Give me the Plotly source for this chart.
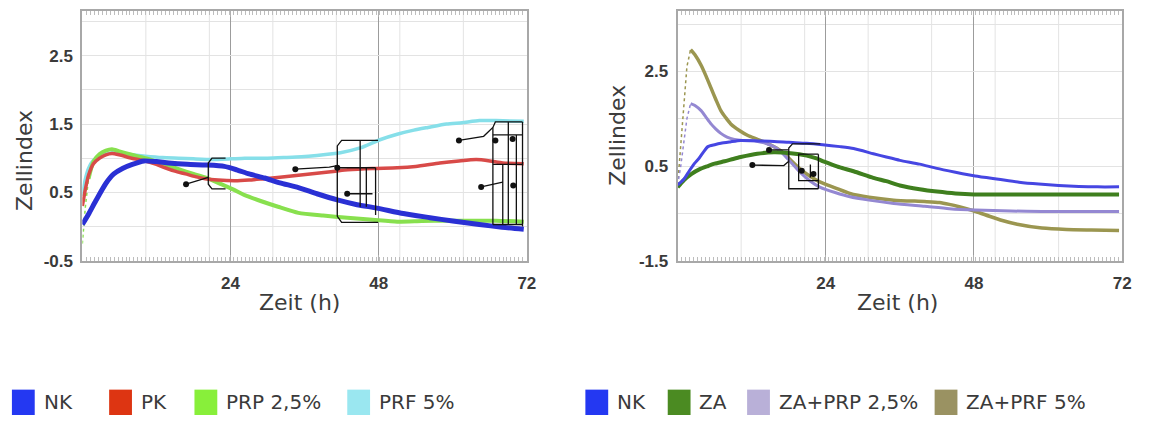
import plotly.graph_objects as go

W, H = 1149, 426

# ---------------- left panel: NK / PK / PRP 2,5% / PRF 5% ----------------
t_nk_l = [0, 1, 2.2, 3.8, 5.1, 6.5, 8.1, 10, 12, 14, 17, 20, 23, 25, 27, 29.5, 32, 35,
          38, 41.3, 44.5, 47.7, 52, 56.3, 60, 64.3, 68, 71.5]
v_nk_l = [0.03, 0.18, 0.38, 0.63, 0.77, 0.85, 0.91, 0.96, 0.95, 0.93, 0.91, 0.90, 0.88,
          0.83, 0.77, 0.71, 0.64, 0.57, 0.48, 0.39, 0.32, 0.27, 0.19, 0.13, 0.08, 0.03,
          -0.01, -0.04]

t_pk = [0, 0.5, 1, 1.8, 2.8, 3.8, 4.8, 6, 8, 10.2, 12, 13.4, 15, 16.7, 18.3, 19.9, 22,
        24.7, 27, 29.5, 32, 35, 38, 41, 43, 47, 51, 54, 57.9, 61, 63.8, 66, 68.1, 71.5]
v_pk = [0.3, 0.55, 0.75, 0.92, 1.0, 1.05, 1.07, 1.05, 1.0, 0.96, 0.91, 0.86, 0.81, 0.77,
        0.73, 0.70, 0.68, 0.67, 0.68, 0.70, 0.72, 0.75, 0.78, 0.81, 0.83, 0.85, 0.86,
        0.88, 0.93, 0.96, 0.98, 0.96, 0.93, 0.92]

t_prp = [0, 0.5, 1, 1.8, 2.8, 3.8, 4.8, 6, 8, 10.2, 12, 14, 15.6, 18, 19.9, 22.5, 24.5,
         26.3, 29, 31.7, 35, 39, 42.9, 47, 51, 55, 59, 63, 67, 71.5]
v_prp = [-0.25, 0.3, 0.7, 0.95, 1.06, 1.11, 1.13, 1.1, 1.05, 1.0, 0.95, 0.89, 0.84, 0.77,
         0.72, 0.62, 0.54, 0.46, 0.37, 0.29, 0.2, 0.16, 0.13, 0.1, 0.07, 0.08, 0.086,
         0.086, 0.086, 0.07]

t_prf = [0, 0.5, 1, 1.8, 2.8, 3.8, 4.8, 6, 8, 10.2, 13, 15.6, 18, 21, 24, 26.3, 30, 33,
         35.5, 38, 41.8, 45, 48.2, 51, 53.7, 56, 59, 61.5, 64.3, 67, 71.5]
v_prf = [0.45, 0.7, 0.85, 0.97, 1.03, 1.06, 1.08, 1.07, 1.05, 1.03, 1.01, 1.0, 0.99, 0.98,
         0.99, 1.0, 1.0, 1.01, 1.02, 1.04, 1.08, 1.15, 1.27, 1.35, 1.41, 1.45, 1.5, 1.52,
         1.55, 1.55, 1.54]

# significance brackets (time h, Zellindex)
brackets_l = [
    [(16.8, 0.62), (19.5, 0.70), (20.4, 0.72)],
    [(23.2, 1.0), (21.0, 1.0), (20.4, 0.93), (20.4, 0.62), (21.0, 0.55), (23.2, 0.55)],
    [(34.5, 0.84), (40.0, 0.87), (41.3, 0.89)],
    [(47.9, 1.26), (42.0, 1.26), (41.3, 1.18), (41.3, 0.15), (42.0, 0.06), (47.9, 0.06)],
    [(41.3, 0.86), (47.5, 0.86)],
    [(45.0, 1.26), (45.0, 0.29)],
    [(46.0, 0.86), (46.0, 0.29)],
    [(47.5, 0.86), (47.5, 0.17)],
    [(42.9, 0.48), (47.0, 0.48)],
    [(61.0, 1.26), (65.0, 1.32), (66.5, 1.45), (66.9, 1.53), (71.3, 1.53)],
    [(66.5, 1.34), (71.3, 1.34)],
    [(66.5, 1.45), (66.5, 0.03)],
    [(69.0, 1.53), (69.0, 0.03)],
    [(70.3, 1.34), (70.3, 0.03)],
    [(71.3, 1.53), (71.3, 0.0)],
    [(66.5, 0.03), (71.3, 0.03)],
    [(64.6, 0.58), (68.1, 0.65)],
    [(68.1, 0.91), (68.1, 0.03)],
    [(66.5, 0.91), (71.3, 0.91)],
]
dots_l = [(16.8, 0.62), (34.5, 0.84), (41.3, 0.86), (42.9, 0.48), (61.0, 1.26),
          (66.9, 1.26), (69.7, 1.28), (64.6, 0.58), (69.8, 0.60)]

# ---------------- right panel: NK / ZA / ZA+PRP 2,5% / ZA+PRF 5% ----------------
t_nk_r = [0, 1, 1.9, 2.7, 3.5, 4.2, 4.9, 6, 7, 8.5, 10.2, 13, 15.6, 18, 20.9, 23.5, 26.3,
          28.5, 31.7, 33.8, 36, 39.2, 42, 45, 48.2, 52, 55.3, 58.5, 61.7, 65, 68, 71.5]
v_nk_r = [0.1, 0.22, 0.4, 0.55, 0.67, 0.8, 0.91, 0.95, 0.98, 1.01, 1.04, 1.03, 1.02, 1.0,
          0.98, 0.95, 0.91, 0.87, 0.76, 0.69, 0.62, 0.54, 0.45, 0.37, 0.29, 0.22, 0.16,
          0.12, 0.09, 0.07, 0.06, 0.06]

t_za = [0, 1, 2.2, 3.5, 4.9, 6, 7.6, 9, 10.2, 12.9, 15.6, 18.3, 20.9, 22.5, 23.6, 25, 26.3,
        28.5, 31.7, 33.8, 36, 39.2, 42, 45, 48, 51, 56, 62, 67, 71.5]
v_za = [0.05, 0.2, 0.33, 0.43, 0.5, 0.55, 0.6, 0.65, 0.69, 0.76, 0.79, 0.77, 0.72, 0.66,
        0.6, 0.53, 0.47, 0.39, 0.25, 0.18, 0.09, 0.01, -0.04, -0.08, -0.1, -0.1, -0.1,
        -0.1, -0.1, -0.1]

t_zaprp = [0, 0.5, 1, 1.5, 2.1, 2.8, 3.8, 4.6, 5.4, 6.2, 7, 8, 9.2, 10.5, 11.8, 13, 14.5,
           16, 17.2, 18.5, 19.9, 21.5, 23.1, 25.5, 27.9, 31, 35, 40, 44, 48.2, 54, 59,
           65, 71.5]
v_zaprp = [0.1, 0.5, 1.0, 1.5, 1.82, 1.78, 1.67, 1.53, 1.39, 1.28, 1.19, 1.11, 1.06, 1.04,
           1.04, 1.02, 0.97, 0.88, 0.74, 0.56, 0.36, 0.18, 0.05, -0.06, -0.15, -0.22,
           -0.29, -0.35, -0.4, -0.43, -0.45, -0.46, -0.46, -0.46]

t_zaprf = [0, 0.5, 1, 1.5, 2.1, 2.8, 3.8, 4.6, 5.4, 6.2, 7, 7.8, 8.6, 10, 11.3, 13, 14.5,
           16, 17.2, 18.5, 19.9, 21.5, 23.1, 25.5, 27.9, 31, 35, 40, 42.4, 44, 45.6,
           48.3, 50.5, 52.6, 55, 59, 63, 67, 71.5]
v_zaprf = [0.1, 0.9, 1.8, 2.6, 2.96, 2.85, 2.63, 2.4, 2.15, 1.9, 1.67, 1.52, 1.39, 1.25,
           1.15, 1.06, 0.98, 0.88, 0.77, 0.6, 0.43, 0.28, 0.16, 0.04, -0.08, -0.16,
           -0.22, -0.25, -0.27, -0.31, -0.36, -0.46, -0.56, -0.65, -0.73, -0.81, -0.84,
           -0.85, -0.86]

brackets_r = [
    [(12.1, 0.52), (17.2, 0.51), (18.0, 0.60)],
    [(23.1, 0.97), (18.6, 0.97), (18.0, 0.88), (18.0, 0.02), (22.8, 0.02)],
    [(14.8, 0.84), (18.0, 0.84)],
    [(22.8, 0.75), (19.6, 0.75), (19.6, 0.19), (22.8, 0.19)],
    [(22.8, 0.75), (22.8, 0.02)],
    [(21.5, 0.53), (21.5, 0.26)],
]
dots_r = [(12.1, 0.52), (14.8, 0.84), (20.1, 0.40), (22.0, 0.33)]

legend_l = [("NK", "#2438f2"), ("PK", "#dd3512"), ("PRP 2,5%", "#88ef3a"), ("PRF 5%", "#9ae7f0")]
legend_r = [("NK", "#2438f2"), ("ZA", "#4b8b22"), ("ZA+PRP 2,5%", "#b9b0d8"), ("ZA+PRF 5%", "#9a9262")]

# ---------------- figure ----------------
fig = go.Figure()


def add_curve(t, v, color, width, xa, ya, n_dot=0):
    if n_dot:
        fig.add_trace(go.Scatter(x=t[:n_dot + 1], y=v[:n_dot + 1], mode="lines",
                                 line=dict(color=color, width=1.5, dash="dot"),
                                 xaxis=xa, yaxis=ya, showlegend=False, hoverinfo="skip"))
    fig.add_trace(go.Scatter(x=t[n_dot:], y=v[n_dot:], mode="lines",
                             line=dict(color=color, width=width, shape="spline", smoothing=0.6),
                             xaxis=xa, yaxis=ya, showlegend=False))


def add_brackets(paths, dots, xa, ya):
    for p in paths:
        fig.add_trace(go.Scatter(x=[q[0] for q in p], y=[q[1] for q in p], mode="lines",
                                 line=dict(color="#111111", width=1.3),
                                 xaxis=xa, yaxis=ya, showlegend=False, hoverinfo="skip"))
    fig.add_trace(go.Scatter(x=[d[0] for d in dots], y=[d[1] for d in dots], mode="markers",
                             marker=dict(color="#111111", size=6),
                             xaxis=xa, yaxis=ya, showlegend=False, hoverinfo="skip"))


# left panel curves (drawn back to front)
add_curve(t_prf, v_prf, "#86dfe9", 3.5, "x", "y")
add_curve(t_prp, v_prp, "#88e04e", 4, "x", "y", n_dot=2)
add_curve(t_pk, v_pk, "#d84a48", 3.5, "x", "y")
add_curve(t_nk_l, v_nk_l, "#2a30d4", 5, "x", "y")
add_brackets(brackets_l, dots_l, "x", "y")

# right panel curves
add_curve(t_zaprf, v_zaprf, "#9b9650", 3.5, "x2", "y2", n_dot=4)
add_curve(t_zaprp, v_zaprp, "#9488d2", 3, "x2", "y2", n_dot=4)
add_curve(t_za, v_za, "#3f7f1e", 4, "x2", "y2")
add_curve(t_nk_r, v_nk_r, "#4646e2", 3, "x2", "y2")
add_brackets(brackets_r, dots_r, "x2", "y2")

y_dom = [(H - 267) / H, (H - 11) / H]
xl_dom = [83 / W, 531 / W]
xr_dom = [683 / W, 1131 / W]

tick_font = dict(family="Liberation Sans, Arial", size=17, color="#3a3a3a")
frame = dict(showline=True, linecolor="#a8a8a8", linewidth=2, zeroline=False)


def x_axis(dom, anchor):
    # labelled hours with darker grid, plus a fine row of tick marks along both frame edges
    return dict(domain=dom, anchor=anchor, range=[0, 72], tickvals=[24, 48, 72],
                ticktext=["<b>24</b>", "<b>48</b>", "<b>72</b>"], ticks="inside",
                ticklen=6, tickcolor="#b0b0b0", mirror="allticks",
                showgrid=True, gridcolor="#9c9c9c", gridwidth=1,
                minor=dict(tick0=0, dtick=72 / 112, ticks="inside", ticklen=4,
                           tickcolor="#bdbdbd", showgrid=False),
                tickfont=tick_font, ticklabelstandoff=6, **frame)


def y_axis(dom, anchor, rng, tick0, dtick, minor_dtick, labels):
    return dict(domain=dom, anchor=anchor, range=rng, mirror=True,
                tickvals=labels, ticktext=[f"<b>{v:g}</b>" for v in labels], ticks="",
                showgrid=True, gridcolor="#e3e3e3",
                minor=dict(tick0=tick0, dtick=minor_dtick, showgrid=True, gridcolor="#e3e3e3",
                           ticks=""),
                tickfont=tick_font, ticklabelstandoff=4, **frame)


fig.update_layout(
    width=W, height=H, margin=dict(l=0, r=0, t=0, b=0),
    paper_bgcolor="white", plot_bgcolor="white", showlegend=False,
    xaxis=x_axis(xl_dom, "y"),
    xaxis2=x_axis(xr_dom, "y2"),
    yaxis=y_axis(y_dom, "x", [-0.5, 3.157], -0.5, 1, 0.5, [-0.5, 0.5, 1.5, 2.5]),
    yaxis2=y_axis(y_dom, "x2", [-1.5, 3.78], -1.5, 2, 1, [-1.5, 0.5, 2.5]),
)

shapes = []
# light vertical grid every 72/7 h
for xref, yref in [("x", "y domain"), ("x2", "y2 domain")]:
    for k in range(1, 7):
        shapes.append(dict(type="line", xref=xref, yref=yref, x0=k * 72 / 7, x1=k * 72 / 7,
                           y0=0, y1=1, line=dict(color="#e3e3e3", width=1), layer="below"))

title_font = dict(family="DejaVu Sans", size=22, color="#3c3c3c")
ann = []
for cx, cy in [(24, 164), (623, 139)]:
    ann.append(dict(text="Zellindex", x=cx / W, y=1 - cy / H, xref="paper", yref="paper",
                    textangle=-90, showarrow=False, font=title_font,
                    xanchor="center", yanchor="middle"))
for cx in [302, 905]:
    ann.append(dict(text="Zeit (h)", x=cx / W, y=1 - 310 / H, xref="paper", yref="paper",
                    showarrow=False, font=title_font, xanchor="center", yanchor="middle"))

# legends below each panel
leg_font = dict(family="DejaVu Sans", size=20, color="#3a3a3a")
for entries, xs in [(legend_l, [12, 110, 196, 350]), (legend_r, [590, 673, 753, 942])]:
    for (name, col), x0 in zip(entries, xs):
        shapes.append(dict(type="rect", xref="paper", yref="paper",
                           x0=x0 / W, x1=(x0 + 23) / W, y0=1 - 425 / H, y1=1 - 399 / H,
                           fillcolor=col, line=dict(width=0)))
        ann.append(dict(text=name, x=(x0 + 30) / W, y=1 - 412 / H, xref="paper", yref="paper",
                        showarrow=False, font=leg_font, xanchor="left", yanchor="middle"))

fig.update_layout(annotations=ann, shapes=shapes)

fig.write_html("out.html")
